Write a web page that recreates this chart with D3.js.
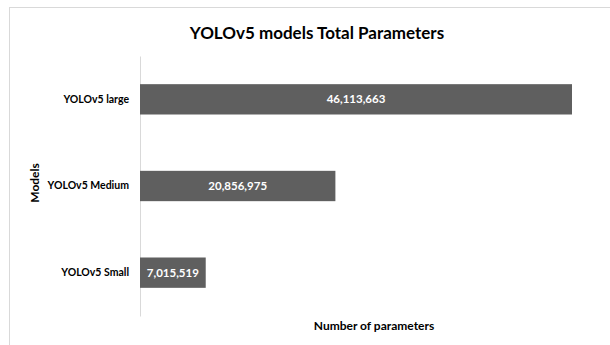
<!DOCTYPE html>
<html>
<head>
<meta charset="utf-8">
<script src="https://cdn.jsdelivr.net/npm/d3@7"></script>
<style>
  html, body { margin: 0; padding: 0; background: #fff; }
  svg { display: block; font-family: Lato, "Open Sans", sans-serif; }
</style>
</head>
<body>
<svg id="chart" width="610" height="345"></svg>
<script>
const models = ["YOLOv5 large", "YOLOv5 Medium", "YOLOv5 Small"];
const params = [46113663, 20856975, 7015519];

const svg = d3.select("#chart");

// outer chart frame
svg.append("rect")
  .attr("x", 9.5).attr("y", 7.5)
  .attr("width", 620).attr("height", 360)
  .attr("fill", "#fff").attr("stroke", "#d9d9d9");

const x = d3.scaleLinear().domain([0, d3.max(params)]).range([140, 572]);
const y = d3.scaleBand().domain(models).range([56, 316]).paddingInner(0.65).paddingOuter(0.325);

// category axis
const yAxis = svg.append("g")
  .attr("transform", "translate(140,0)")
  .call(d3.axisLeft(y).tickSize(0).tickPadding(11));
yAxis.select(".domain").attr("stroke", "#d9d9d9");
yAxis.selectAll("text")
  .attr("font-size", 10.5).attr("font-weight", "bold").attr("fill", "#000")
  .attr("font-family", "Lato, sans-serif");

// bars
const data = models.map((m, i) => ({ model: m, value: params[i] }));
svg.append("g").selectAll("rect")
  .data(data).join("rect")
  .attr("x", x(0))
  .attr("y", d => y(d.model))
  .attr("width", d => x(d.value) - x(0))
  .attr("height", y.bandwidth())
  .attr("fill", "#5f5f5f");

// value labels
svg.append("g").selectAll("text")
  .data(data).join("text")
  .attr("x", d => (x(0) + x(d.value)) / 2)
  .attr("y", d => y(d.model) + y.bandwidth() / 2)
  .attr("dy", "0.35em")
  .attr("text-anchor", "middle")
  .attr("font-size", 11.5).attr("font-weight", "bold").attr("fill", "#fff")
  .text(d => d3.format(",")(d.value));

// title
svg.append("text")
  .attr("x", 317).attr("y", 39)
  .attr("text-anchor", "middle")
  .attr("font-size", 17).attr("font-weight", "bold").attr("fill", "#000")
  .text("YOLOv5 models Total Parameters");

// axis titles
svg.append("text")
  .attr("transform", "translate(39,183) rotate(-90)")
  .attr("text-anchor", "middle")
  .attr("font-size", 12).attr("font-weight", "bold").attr("fill", "#000")
  .text("Models");

svg.append("text")
  .attr("x", 374).attr("y", 330)
  .attr("text-anchor", "middle")
  .attr("font-size", 12).attr("font-weight", "bold").attr("fill", "#000")
  .text("Number of parameters");
</script>
</body>
</html>
